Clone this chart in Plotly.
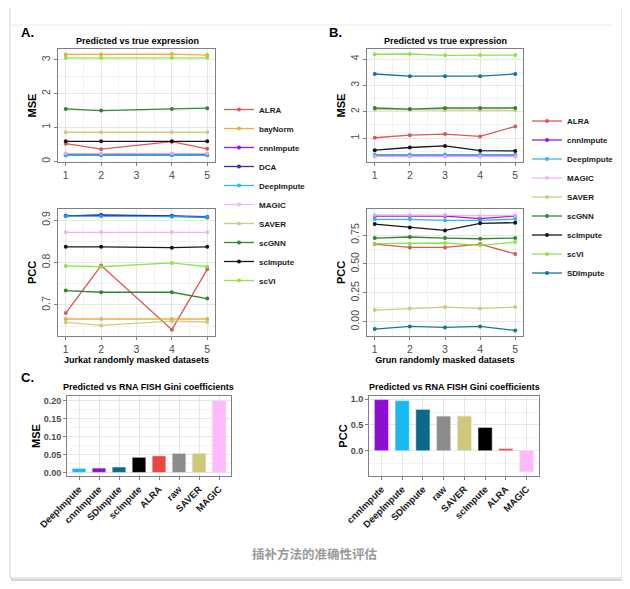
import plotly.graph_objects as go

# page body has an 8px margin; the figure is sized to fill the rest of the window
OFF = 8
W, H = 622, 581
FONT = "Liberation Sans, Arial, sans-serif"

# ---------------- data ----------------
jurkat_x = [1, 2, 4, 5]
grun_x = [1, 2, 3, 4, 5]

jurkat_methods = ["ALRA", "bayNorm", "cnnImpute", "DCA", "DeepImpute",
                  "MAGIC", "SAVER", "scGNN", "scImpute", "scVI"]
jurkat_mse = {
    "ALRA":       [0.52, 0.36, 0.58, 0.37],
    "bayNorm":    [3.16, 3.16, 3.17, 3.14],
    "cnnImpute":  [0.22, 0.22, 0.22, 0.22],
    "DCA":        [0.19, 0.19, 0.19, 0.19],
    "DeepImpute": [0.18, 0.18, 0.18, 0.18],
    "MAGIC":      [0.23, 0.23, 0.23, 0.23],
    "SAVER":      [0.86, 0.86, 0.86, 0.86],
    "scGNN":      [1.55, 1.50, 1.55, 1.57],
    "scImpute":   [0.59, 0.59, 0.59, 0.59],
    "scVI":       [3.06, 3.06, 3.06, 3.06],
}
jurkat_pcc = {
    "ALRA":       [0.681, 0.793, 0.642, 0.784],
    "bayNorm":    [0.667, 0.667, 0.667, 0.667],
    "cnnImpute":  [0.910, 0.911, 0.909, 0.906],
    "DCA":        [0.910, 0.912, 0.910, 0.908],
    "DeepImpute": [0.909, 0.909, 0.908, 0.907],
    "MAGIC":      [0.871, 0.871, 0.871, 0.871],
    "SAVER":      [0.659, 0.652, 0.662, 0.660],
    "scGNN":      [0.734, 0.730, 0.730, 0.715],
    "scImpute":   [0.837, 0.837, 0.835, 0.837],
    "scVI":       [0.792, 0.790, 0.799, 0.790],
}

grun_methods = ["ALRA", "cnnImpute", "DeepImpute", "MAGIC", "SAVER",
                "scGNN", "scImpute", "scVI", "SDImpute"]
grun_mse = {
    "ALRA":       [1.01, 1.11, 1.15, 1.06, 1.44],
    "cnnImpute":  [0.32, 0.32, 0.32, 0.32, 0.32],
    "DeepImpute": [0.37, 0.37, 0.37, 0.37, 0.37],
    "MAGIC":      [0.30, 0.30, 0.30, 0.30, 0.30],
    "SAVER":      [2.08, 2.07, 2.05, 2.05, 2.05],
    "scGNN":      [2.14, 2.10, 2.14, 2.14, 2.14],
    "scImpute":   [0.54, 0.64, 0.70, 0.52, 0.51],
    "scVI":       [4.18, 4.19, 4.14, 4.15, 4.15],
    "SDImpute":   [3.43, 3.35, 3.35, 3.35, 3.43],
}
grun_pcc = {
    "ALRA":       [0.672, 0.643, 0.643, 0.672, 0.586],
    "cnnImpute":  [0.914, 0.914, 0.914, 0.891, 0.914],
    "DeepImpute": [0.886, 0.886, 0.877, 0.877, 0.888],
    "MAGIC":      [0.923, 0.923, 0.923, 0.917, 0.917],
    "SAVER":      [0.101, 0.115, 0.127, 0.115, 0.127],
    "scGNN":      [0.724, 0.733, 0.724, 0.718, 0.724],
    "scImpute":   [0.845, 0.816, 0.790, 0.851, 0.857],
    "scVI":       [0.675, 0.675, 0.681, 0.661, 0.689],
    "SDImpute":   [-0.063, -0.040, -0.049, -0.040, -0.075],
}

gini_mse_methods = ["DeepImpute", "cnnImpute", "SDImpute", "scImpute", "ALRA", "raw", "SAVER", "MAGIC"]
gini_mse_values = [0.011, 0.012, 0.015, 0.042, 0.046, 0.053, 0.053, 0.200]
gini_pcc_methods = ["cnnImpute", "DeepImpute", "SDImpute", "raw", "SAVER", "scImpute", "ALRA", "MAGIC"]
gini_pcc_values = [0.99, 0.97, 0.80, 0.67, 0.67, 0.45, 0.04, -0.41]

line_colors = {
    "ALRA": "#D24B47", "bayNorm": "#F0A42A", "cnnImpute": "#9400D3",
    "DCA": "#1C1CB0", "DeepImpute": "#1AB4E6", "MAGIC": "#F2AEEE",
    "SAVER": "#CDC673", "scGNN": "#1F7A1F", "scImpute": "#000000",
    "scVI": "#86E23A", "SDImpute": "#00688B",
}
bar_colors = {
    "DeepImpute": "#19B8F0", "cnnImpute": "#8E0FCF", "SDImpute": "#0B6A8C",
    "scImpute": "#000000", "ALRA": "#E84545", "raw": "#8C8C8C",
    "SAVER": "#CFC77A", "MAGIC": "#FDB9FB",
}

# ---------------- helpers (window pixel -> paper fraction) ----------------
def px(x):
    return (x - OFF) / W

def py(y):
    return 1 - (y - OFF) / H

def dx(a, b):
    return [px(a), px(b)]

def dy(top, bottom):
    return [py(bottom), py(top)]

fig = go.Figure()

def add_lines(methods, xs, data, xa, ya, legend, show):
    for m in methods:
        fig.add_trace(go.Scatter(
            x=xs, y=data[m], name=m, mode="lines+markers",
            line=dict(color=line_colors[m], width=1.3),
            marker=dict(color=line_colors[m], size=4),
            xaxis=xa, yaxis=ya, legend=legend, showlegend=show,
            opacity=0.9,
        ))

add_lines(jurkat_methods, jurkat_x, jurkat_mse, "x", "y", "legend", True)
add_lines(jurkat_methods, jurkat_x, jurkat_pcc, "x2", "y2", "legend", False)
add_lines(grun_methods, grun_x, grun_mse, "x3", "y3", "legend2", True)
add_lines(grun_methods, grun_x, grun_pcc, "x4", "y4", "legend2", False)

fig.add_trace(go.Bar(
    x=gini_mse_methods, y=gini_mse_values, width=0.68,
    marker=dict(color=[bar_colors[m] for m in gini_mse_methods]),
    xaxis="x5", yaxis="y5", showlegend=False))
fig.add_trace(go.Bar(
    x=gini_pcc_methods, y=gini_pcc_values, width=0.68,
    marker=dict(color=[bar_colors[m] for m in gini_pcc_methods]),
    xaxis="x6", yaxis="y6", showlegend=False))

GRID = "#E6E6E6"
MINOR = "#F3F3F3"
BORDER = "#808080"

def axis(domain, anchor, rng, tickvals, ticktext=None, minor_vals=None,
         tickangle=0, title=None, tsize=11, tickfont=None, standoff=0, **kw):
    d = dict(domain=domain, anchor=anchor, range=rng, tickmode="array",
             tickvals=tickvals, showline=True, mirror=True, linecolor=BORDER,
             linewidth=1, showgrid=True, gridcolor=GRID, gridwidth=1,
             ticks="outside", ticklen=3, tickcolor=BORDER, zeroline=False,
             tickangle=tickangle, automargin=False,
             tickfont=tickfont or dict(family=FONT, size=10.5, color="#4D4D4D"))
    if ticktext is not None:
        d["ticktext"] = ticktext
    if minor_vals is not None:
        d["minor"] = dict(tickvals=minor_vals, showgrid=True, gridcolor=MINOR, ticks="")
    if title:
        d["title"] = dict(text="<b>" + title + "</b>", standoff=standoff,
                          font=dict(family=FONT, size=tsize, color="#000"))
    d.update(kw)
    return d

xs_minor = [1.5, 2.5, 3.5, 4.5]
xA = dx(58, 215)
xB = dx(367, 523)
top_dom = dy(49, 162)
bot_dom = dy(209, 336)
bar_tickfont = dict(family=FONT, size=9, color="#4D4D4D", weight="bold")
cat_tickfont = dict(family=FONT, size=9.5, color="#1A1A1A", weight="bold")

fig.update_layout(
    xaxis=axis(xA, "y", [0.78, 5.22], [1, 2, 3, 4, 5], minor_vals=xs_minor),
    yaxis=axis(top_dom, "x", [-0.02, 3.32], [0, 1, 2, 3], minor_vals=[0.5, 1.5, 2.5],
               tickangle=-90, title="MSE"),
    xaxis2=axis(xA, "y2", [0.78, 5.22], [1, 2, 3, 4, 5], minor_vals=xs_minor,
                title="Jurkat randomly masked datasets", tsize=9, standoff=1),
    yaxis2=axis(bot_dom, "x2", [0.627, 0.926], [0.7, 0.8, 0.9],
                minor_vals=[0.65, 0.75, 0.85], tickangle=-90, title="PCC"),
    xaxis3=axis(xB, "y3", [0.78, 5.22], [1, 2, 3, 4, 5], minor_vals=xs_minor),
    yaxis3=axis(top_dom, "x3", [0.09, 4.38], [1, 2, 3, 4], minor_vals=[0.5, 1.5, 2.5, 3.5],
                tickangle=-90, title="MSE"),
    xaxis4=axis(xB, "y4", [0.78, 5.22], [1, 2, 3, 4, 5], minor_vals=xs_minor,
                title="Grun randomly masked datasets", tsize=9, standoff=1),
    yaxis4=axis(bot_dom, "x4", [-0.123, 0.975], [0, 0.25, 0.5, 0.75],
                ticktext=["0.00", "0.25", "0.50", "0.75"],
                minor_vals=[0.125, 0.375, 0.625, 0.875], tickangle=-90, title="PCC"),
    xaxis5=axis(dx(67, 231), "y5", [-0.6, 7.6], gini_mse_methods, tickangle=-45,
                tickfont=cat_tickfont, type="category",
                categoryorder="array", categoryarray=gini_mse_methods),
    yaxis5=axis(dy(396, 476), "x5", [-0.01, 0.213], [0, 0.05, 0.1, 0.15, 0.2],
                ticktext=["0.00", "0.05", "0.10", "0.15", "0.20"],
                minor_vals=[0.025, 0.075, 0.125, 0.175], title="MSE",
                tickfont=bar_tickfont),
    xaxis6=axis(dx(369, 539), "y6", [-0.6, 7.6], gini_pcc_methods, tickangle=-45,
                tickfont=cat_tickfont, type="category",
                categoryorder="array", categoryarray=gini_pcc_methods),
    yaxis6=axis(dy(396, 476), "x6", [-0.49, 1.06], [0, 0.5, 1.0],
                ticktext=["0.0", "0.5", "1.0"], minor_vals=[-0.25, 0.25, 0.75],
                title="PCC", tickfont=bar_tickfont),
)

legend_font = dict(family=FONT, size=8, color="#1A1A1A", weight="bold")
fig.update_layout(
    legend=dict(x=px(219), y=py(195), xanchor="left", yanchor="middle",
                font=legend_font, bgcolor="rgba(0,0,0,0)", tracegroupgap=0),
    legend2=dict(x=px(527), y=py(197), xanchor="left", yanchor="middle",
                 font=legend_font, bgcolor="rgba(0,0,0,0)", tracegroupgap=0),
)

# ---------- text ----------
ann = []
def text(x, y, s, size, color="#000", bold=True, family=FONT, xanchor="center"):
    ann.append(dict(x=px(x), y=py(y), xref="paper", yref="paper", showarrow=False,
                    text=("<b>%s</b>" % s) if bold else s, xanchor=xanchor, yanchor="middle",
                    font=dict(family=family, size=size, color=color)))

text(19, 32, "A.", 13, xanchor="left")
text(327, 32, "B.", 13, xanchor="left")
text(19, 377, "C.", 13, xanchor="left")
text(137, 41, "Predicted vs true expression", 9)
text(445, 41, "Predicted vs true expression", 9)
text(148, 387, "Predicted vs RNA FISH Gini coefficients", 9)
text(454, 387, "Predicted vs RNA FISH Gini coefficients", 9)
text(315, 553, "插补方法的准确性评估", 12.5, color="#9A9A9A",
     family="Noto Sans CJK SC, sans-serif")

# ---------- card frame ----------
shapes = [
    dict(type="rect", xref="paper", yref="paper", x0=px(12), x1=px(624), y0=py(580), y1=py(9),
         line=dict(color="#D6D6D6", width=2), fillcolor="rgba(0,0,0,0)", layer="below"),
    dict(type="rect", xref="paper", yref="paper", x0=px(10), x1=px(622), y0=py(578), y1=py(7),
         line=dict(color="#CFCFCF", width=1), fillcolor="white", layer="below"),
    dict(type="line", xref="paper", yref="paper", x0=px(11), x1=px(612), y0=py(25), y1=py(25),
         line=dict(color="#E8E8E8", width=1), layer="below"),
]

fig.update_layout(
    width=W, height=H, margin=dict(l=0, r=0, t=0, b=0, autoexpand=False),
    paper_bgcolor="white", plot_bgcolor="white",
    annotations=ann, shapes=shapes, bargap=0.3,
    font=dict(family=FONT),
)

fig.write_html("out.html")
